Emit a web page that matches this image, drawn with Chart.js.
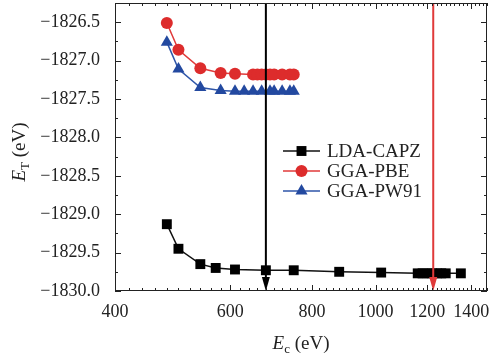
<!DOCTYPE html>
<html>
<head>
<meta charset="utf-8">
<script src="https://cdn.jsdelivr.net/npm/chart.js@4.4.0/dist/chart.umd.min.js"></script>
<style>
  html, body { margin: 0; padding: 0; background: #fff; }
  #wrap { width: 489px; height: 358px; }
</style>
</head>
<body>
<div id="wrap"><canvas id="myChart" width="489" height="358"></canvas></div>
<script>
"use strict";
// values
const seriesNames = ["LDA-CAPZ", "GGA-PBE", "GGA-PW91"];

const ldaCutoff = [480, 500, 540, 570, 610, 680, 750, 880, 1020, 1160, 1180, 1200, 1220, 1240, 1260, 1280, 1350];
const ldaEnergy = [-1829.13, -1829.45, -1829.65, -1829.70, -1829.72, -1829.73, -1829.73, -1829.75, -1829.76,
                   -1829.77, -1829.77, -1829.77, -1829.77, -1829.77, -1829.77, -1829.77, -1829.77];

const pbeCutoff = [480, 500, 540, 580, 610, 650, 660, 670, 680, 690, 700, 720, 740, 750];
const pbeEnergy = [-1826.51, -1826.86, -1827.10, -1827.16, -1827.17, -1827.18, -1827.18, -1827.18,
                   -1827.18, -1827.18, -1827.18, -1827.18, -1827.18, -1827.18];

const pw91Cutoff = [480, 500, 540, 580, 610, 630, 650, 670, 690, 700, 720, 740, 750];
const pw91Energy = [-1826.76, -1827.11, -1827.35, -1827.39, -1827.40, -1827.40, -1827.40, -1827.40,
                    -1827.40, -1827.40, -1827.40, -1827.40, -1827.40];

const xTickLabels = [400, 600, 800, 1000, 1200, 1400];
const markedCutoffs = [680, 1225];
const markedColors = ["#000000", "#e03a3a"];

const FONT = "'Liberation Serif', 'Times New Roman', serif";
Chart.defaults.font.family = FONT;
Chart.defaults.color = "#222";

function toPoints(xs, ys) {
  return xs.map((v, i) => ({ x: v, y: ys[i] }));
}

// ticks on all four sides + frame
const frameTicks = {
  id: "frameTicks",
  afterDraw(chart) {
    const { ctx, chartArea: a, scales: { x, y } } = chart;
    ctx.save();
    ctx.strokeStyle = "#222";
    ctx.lineWidth = 1;
    ctx.strokeRect(a.left + 0.5, a.top + 0.5, a.right - a.left - 1, a.bottom - a.top - 1);
    ctx.beginPath();
    for (let v = 420; v <= 1480; v += 20) {
      const px = Math.round(x.getPixelForValue(v)) + 0.5;
      const len = v % 200 === 0 ? 6 : 3;
      ctx.moveTo(px, a.bottom); ctx.lineTo(px, a.bottom - len);
      ctx.moveTo(px, a.top); ctx.lineTo(px, a.top + len);
    }
    for (let k = 0; k <= 15; k++) {
      const v = -1830 + k * 0.25;
      const py = Math.round(y.getPixelForValue(v)) + 0.5;
      const len = k % 2 === 0 ? 6 : 3;
      ctx.moveTo(a.left, py); ctx.lineTo(a.left + len, py);
      ctx.moveTo(a.right, py); ctx.lineTo(a.right - len, py);
    }
    ctx.stroke();
    ctx.restore();
  }
};

// vertical marker lines with arrow heads
const markerLines = {
  id: "markerLines",
  afterDatasetsDraw(chart) {
    const { ctx, chartArea: a, scales: { x } } = chart;
    ctx.save();
    markedCutoffs.forEach((v, i) => {
      const px = x.getPixelForValue(v);
      ctx.strokeStyle = markedColors[i];
      ctx.fillStyle = markedColors[i];
      ctx.lineWidth = 2;
      ctx.beginPath();
      ctx.moveTo(px, a.top);
      ctx.lineTo(px, a.bottom - 10);
      ctx.stroke();
      ctx.beginPath();
      ctx.moveTo(px - 4, a.bottom - 14);
      ctx.lineTo(px + 4, a.bottom - 14);
      ctx.lineTo(px, a.bottom);
      ctx.closePath();
      ctx.fill();
    });
    ctx.restore();
  }
};

function drawTitle(ctx, cx, baseY, sub, size) {
  const fMain = "italic " + size + "px " + FONT;
  const fSub = Math.round(size * 0.68) + "px " + FONT;
  const fRest = size + "px " + FONT;
  ctx.font = fMain; const wE = ctx.measureText("E").width;
  ctx.font = fSub; const wS = ctx.measureText(sub).width;
  ctx.font = fRest; const wR = ctx.measureText(" (eV)").width;
  let px = cx - (wE + wS + wR) / 2;
  ctx.textAlign = "left";
  ctx.textBaseline = "alphabetic";
  ctx.font = fMain; ctx.fillText("E", px, baseY); px += wE;
  ctx.font = fSub; ctx.fillText(sub, px, baseY + size * 0.22); px += wS;
  ctx.font = fRest; ctx.fillText(" (eV)", px, baseY);
}

// axis titles and legend
const extras = {
  id: "extras",
  afterDraw(chart) {
    const { ctx } = chart;
    ctx.save();
    ctx.fillStyle = "#222";
    drawTitle(ctx, 301, 349, "c", 19);
    ctx.translate(25, 152);
    ctx.rotate(-Math.PI / 2);
    drawTitle(ctx, 0, 0, "T", 19);
    ctx.restore();

    ctx.save();
    chart.data.datasets.forEach((ds, i) => {
      const yRow = 151 + 20 * i;
      ctx.strokeStyle = ds.borderColor;
      ctx.lineWidth = 1.5;
      ctx.beginPath();
      ctx.moveTo(283, yRow);
      ctx.lineTo(320, yRow);
      ctx.stroke();
      ctx.fillStyle = ds.pointBackgroundColor;
      Chart.helpers.drawPoint(ctx, {
        pointStyle: ds.pointStyle, radius: ds.pointRadius, rotation: 0, borderWidth: 0
      }, 301.5, yRow);
      ctx.fillStyle = "#222";
      ctx.font = "19px " + FONT;
      ctx.textAlign = "left";
      ctx.textBaseline = "middle";
      ctx.fillText(ds.label, 327, yRow + 1);
    });
    ctx.restore();
  }
};

const ctx = document.getElementById("myChart");
const myChart = new Chart(ctx, {
  type: "scatter",
  data: {
    datasets: [
      {
        label: seriesNames[0],
        data: toPoints(ldaCutoff, ldaEnergy),
        showLine: true,
        borderColor: "#111",
        backgroundColor: "#000",
        pointBackgroundColor: "#000",
        pointBorderWidth: 0,
        borderWidth: 1.5,
        pointStyle: "rect",
        pointRadius: 7,
      },
      {
        label: seriesNames[1],
        data: toPoints(pbeCutoff, pbeEnergy),
        showLine: true,
        borderColor: "#e03a3a",
        backgroundColor: "#dd2c2c",
        pointBackgroundColor: "#dd2c2c",
        pointBorderWidth: 0,
        borderWidth: 1.5,
        pointStyle: "circle",
        pointRadius: 6,
      },
      {
        label: seriesNames[2],
        data: toPoints(pw91Cutoff, pw91Energy),
        showLine: true,
        borderColor: "#2e55a8",
        backgroundColor: "#2349a0",
        pointBackgroundColor: "#2349a0",
        pointBorderWidth: 0,
        borderWidth: 1.5,
        pointStyle: "triangle",
        pointRadius: 7,
      },
    ],
  },
  options: {
    responsive: false,
    animation: false,
    layout: { autoPadding: false, padding: { top: 3, right: 2, left: 0, bottom: 0 } },
    plugins: { legend: { display: false }, tooltip: { enabled: false } },
    scales: {
      x: {
        type: "logarithmic",
        min: 400,
        max: 1480,
        grid: { display: false, drawTicks: false },
        border: { display: false },
        afterBuildTicks: (s) => { s.ticks = xTickLabels.map((v) => ({ value: v })); },
        afterFit: (s) => { s.height = 67; s.paddingLeft = 0; s.paddingRight = 0; },
        ticks: {
          autoSkip: false,
          maxRotation: 0,
          padding: 10,
          font: { size: 18 },
          callback: (v) => String(v),
        },
      },
      y: {
        min: -1830,
        max: -1826.25,
        grid: { display: false, drawTicks: false },
        border: { display: false },
        afterFit: (s) => { s.width = 115; s.paddingTop = 0; s.paddingBottom = 0; },
        ticks: {
          stepSize: 0.5,
          includeBounds: false,
          padding: 15,
          font: { size: 18 },
          callback: (v) => "\u2212" + Math.abs(v).toFixed(1),
        },
      },
    },
  },
  plugins: [markerLines, frameTicks, extras],
});
</script>
</body>
</html>
